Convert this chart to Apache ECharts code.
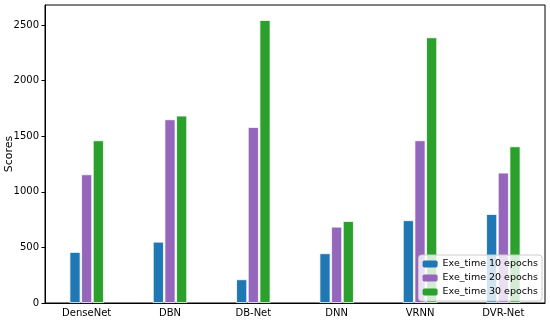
<!DOCTYPE html>
<html>
<head>
<meta charset="utf-8">
<script src="https://cdn.jsdelivr.net/npm/echarts@6/dist/echarts.min.js"></script>
<style>html,body{margin:0;padding:0;background:#fff}#c{width:550px;height:320px}</style>
</head>
<body>
<div id="c"></div>
<script>
const categories = ['DenseNet', 'DBN', 'DB-Net', 'DNN', 'VRNN', 'DVR-Net'];
const epochs10 = [459, 551, 213, 447, 744, 800];
const epochs20 = [1157, 1652, 1583, 686, 1463, 1172];
const epochs30 = [1463, 1685, 2545, 737, 2389, 1409];
const seriesNames = ['Exe_time 10 epochs', 'Exe_time 20 epochs', 'Exe_time 30 epochs'];
const yTicks = [0, 500, 1000, 1500, 2000, 2500];
const colors = ['#1f77b4', '#9467bd', '#2ca02c'];
const font = 'DejaVu Sans';

const chart = echarts.init(document.getElementById('c'), null, {renderer: 'canvas'});
const mk = (name, data, i) => ({
  name, type: 'bar', data, barWidth: 11, barGap: '6%',
  itemStyle: {color: colors[i], borderColor: '#fff', borderWidth: 0.8}
});
chart.setOption({
  animation: false,
  textStyle: {fontFamily: font},
  grid: {left: 45, right: 5, top: 5, bottom: 17, outerBoundsMode: 'none', containLabel: false,
         show: true, borderColor: '#000', borderWidth: 1, backgroundColor: 'transparent'},
  xAxis: {
    type: 'category', data: categories,
    axisLine: {lineStyle: {color: '#000', width: 1}},
    axisTick: {alignWithLabel: true, length: 3.5, lineStyle: {color: '#000'}},
    axisLabel: {color: '#000', fontSize: 10, fontFamily: font, margin: 5}
  },
  yAxis: {
    type: 'value', min: 0, max: 2680, interval: 500,
    name: 'Scores', nameLocation: 'middle', nameGap: 30, nameMoveOverlap: false,
    nameTextStyle: {color: '#000', fontSize: 11, fontFamily: font},
    splitLine: {show: false},
    axisLine: {show: true, lineStyle: {color: '#000', width: 1}},
    axisTick: {show: true, length: 3.5, lineStyle: {color: '#000'}, customValues: yTicks},
    axisLabel: {color: '#000', fontSize: 10, fontFamily: font, margin: 6, customValues: yTicks,
                formatter: v => String(v)}
  },
  legend: {
    orient: 'vertical', right: 8, bottom: 19,
    data: seriesNames,
    itemWidth: 15, itemHeight: 7, itemGap: 4,
    padding: [4, 4, 4, 4],
    backgroundColor: 'rgba(255,255,255,0.8)', borderColor: '#ccc', borderWidth: 1, borderRadius: 3,
    textStyle: {color: '#000', fontSize: 9.5, fontFamily: font},
    itemStyle: {borderWidth: 0}
  },
  series: [mk(seriesNames[0], epochs10, 0), mk(seriesNames[1], epochs20, 1), mk(seriesNames[2], epochs30, 2)]
});
</script>
</body>
</html>
